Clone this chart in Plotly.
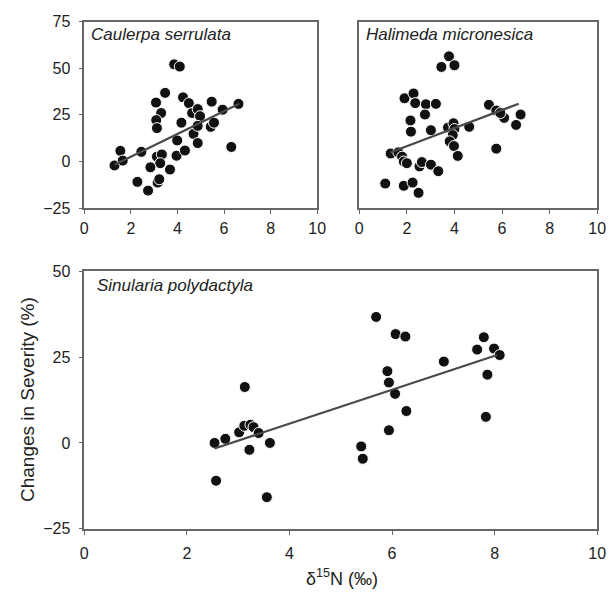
import plotly.graph_objects as go

# ---- data: Caulerpa serrulata ----
cs_x = [1.30, 1.55, 1.65, 2.45, 2.28, 2.74, 3.08, 3.30, 3.09, 3.12, 3.47, 3.86, 4.10,
        3.12, 3.33, 3.26, 2.84, 3.15, 3.22, 3.68, 3.96, 3.99, 4.17, 4.24, 4.32, 4.49,
        4.63, 4.69, 4.87, 4.87, 4.97, 4.87, 5.43, 5.47, 5.57, 5.94, 6.31, 6.62]
cs_y = [-2.1, 5.7, 0.5, 5.2, -10.9, -15.6, 31.6, 26.0, 22.2, 17.9, 36.8, 52.1, 50.9,
        2.6, 3.8, -0.9, -3.1, -11.3, -9.5, -4.3, 3.1, 11.3, 20.8, 34.4, 5.9, 31.3,
        26.0, 14.8, 9.9, 28.1, 24.3, 19.1, 18.6, 32.1, 20.8, 27.8, 7.8, 30.9]
cs_fit_x = [1.3, 6.65]
cs_fit_y = [-1.8, 31.0]

# ---- data: Halimeda micronesica ----
hm_x = [1.09, 1.87, 2.24, 2.49, 1.32, 1.64, 1.80, 1.87, 2.00, 2.53, 2.63, 3.01, 3.32,
        1.90, 2.28, 2.35, 2.80, 3.22, 2.76, 2.15, 2.17, 3.01, 3.73, 3.96, 4.00, 3.93,
        3.80, 3.98, 4.14, 4.62, 3.45, 3.77, 4.00, 5.45, 5.76, 6.09, 6.78, 6.59, 5.76, 5.93]
hm_y = [-11.8, -13.0, -11.3, -16.8, 4.3, 4.9, 2.6, 0.0, -0.9, -2.6, -0.3, -1.7, -5.2,
        33.9, 36.5, 31.3, 30.7, 30.9, 25.2, 22.0, 16.0, 16.8, 18.2, 20.5, 17.4, 14.2,
        10.8, 8.3, 3.0, 18.6, 50.7, 56.4, 51.6, 30.4, 27.3, 23.4, 25.2, 19.6, 6.9, 26.0]
hm_fit_x = [1.3, 6.7]
hm_fit_y = [4.8, 31.0]

# ---- data: Sinularia polydactyla ----
sp_x = [2.54, 2.75, 3.02, 3.12, 3.24, 3.30, 3.40, 3.22, 3.62, 2.57, 3.56, 3.13,
        5.69, 6.07, 6.26, 5.91, 5.94, 6.06, 6.28, 5.94, 7.01, 7.79, 7.66, 7.99, 8.10,
        7.86, 7.83, 5.40, 5.43]
sp_y = [0.0, 1.2, 3.1, 5.0, 5.3, 4.6, 2.9, -2.0, 0.0, -11.0, -15.8, 16.3,
        36.7, 31.7, 31.0, 20.9, 17.6, 14.3, 9.3, 3.7, 23.7, 30.8, 27.2, 27.5, 25.6,
        19.9, 7.6, -1.0, -4.6]
sp_fit_x = [2.54, 8.05]
sp_fit_y = [-1.6, 25.6]

species = ["Caulerpa serrulata", "Halimeda micronesica", "Sinularia polydactyla"]
x_ticks = [0, 2, 4, 6, 8, 10]
top_y_ticks = [-25, 0, 25, 50, 75]
bot_y_ticks = [-25, 0, 25, 50]

W, H = 614, 598
def px(x):
    return x / W
def py(y):
    return 1 - y / H

FONT = "Liberation Sans, Arial"
fig = go.Figure()
marker = dict(color="#111111", size=11, line=dict(color="white", width=1))
line = dict(color="#4a4a4a", width=2.2)

sets = [
    (cs_x, cs_y, cs_fit_x, cs_fit_y, "x", "y"),
    (hm_x, hm_y, hm_fit_x, hm_fit_y, "x2", "y2"),
    (sp_x, sp_y, sp_fit_x, sp_fit_y, "x3", "y3"),
]
for xs, ys, fx, fy, xa, ya in sets:
    fig.add_trace(go.Scatter(x=xs, y=ys, mode="markers", marker=marker,
                             xaxis=xa, yaxis=ya, showlegend=False, cliponaxis=False))
    fig.add_trace(go.Scatter(x=fx, y=fy, mode="lines", line=line,
                             xaxis=xa, yaxis=ya, showlegend=False))

def ax(**kw):
    d = dict(showline=True, linecolor="#666666", linewidth=1.5, mirror=True,
             ticks="outside", ticklen=4, tickcolor="#666666", showgrid=False,
             zeroline=False, tickfont=dict(family=FONT, size=16, color="#222222"))
    d.update(kw)
    return d

fig.update_layout(
    width=W, height=H, margin=dict(l=0, r=0, t=0, b=0),
    paper_bgcolor="white", plot_bgcolor="white",
    xaxis=ax(domain=[px(82), px(320)], range=[0, 10], tickvals=x_ticks, anchor="y",
             ticklabelstandoff=1),
    yaxis=ax(domain=[py(206), py(14)], range=[-25, 75], tickvals=top_y_ticks, anchor="x",
             ticklabelstandoff=5),
    xaxis2=ax(domain=[px(363), px(606)], range=[0, 10], tickvals=x_ticks, anchor="y2",
              ticklabelstandoff=1),
    yaxis2=ax(domain=[py(206), py(14)], range=[-25, 75], tickvals=top_y_ticks, anchor="x2",
              showticklabels=False, ticks=""),
    xaxis3=ax(domain=[px(82), px(606)], range=[0, 10], tickvals=x_ticks, anchor="y3",
              ticklabelstandoff=5),
    yaxis3=ax(domain=[py(536), py(271)], range=[-25, 50], tickvals=bot_y_ticks, anchor="x3",
              ticklabelstandoff=5),
)

title_font = dict(family=FONT, size=17, color="#222222")
for name, xa, ya in zip(species, ["x", "x2", "x3"], ["y", "y2", "y3"]):
    fig.add_annotation(text=f"<i>{name}</i>", xref=f"{xa} domain", yref=f"{ya} domain",
                       x=0.02, y=0.99, xanchor="left", yanchor="top", showarrow=False,
                       font=title_font)

fig.add_annotation(text="Changes in Severity (%)", xref="paper", yref="paper",
                   x=px(24), y=py(403), xanchor="center", yanchor="middle",
                   textangle=-90, showarrow=False,
                   font=dict(family=FONT, size=19, color="#222222"))
fig.add_annotation(text="δ<sup>15</sup>N (‰)", xref="paper", yref="paper",
                   x=px(345), y=py(586), xanchor="center", yanchor="middle", showarrow=False,
                   font=dict(family=FONT, size=18, color="#222222"))

fig.write_html("out.html")
